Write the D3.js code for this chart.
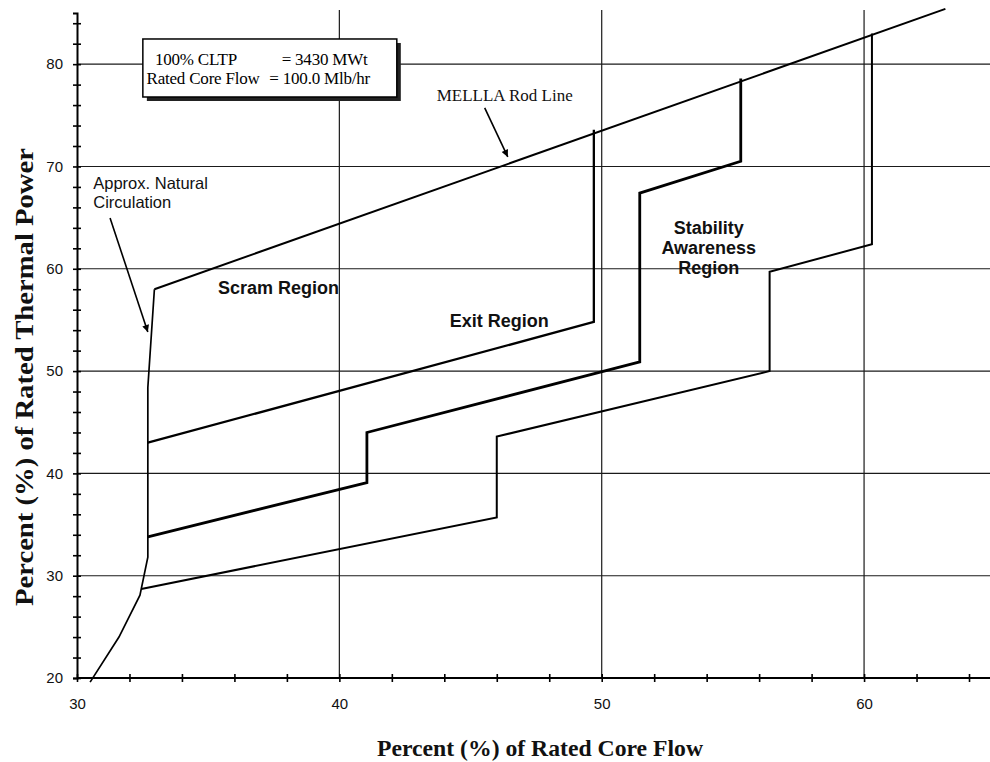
<!DOCTYPE html>
<html>
<head>
<meta charset="utf-8">
<script src="https://cdn.jsdelivr.net/npm/d3@7"></script>
<style>
body { margin: 0; background: #fff; }
</style>
</head>
<body>
<div id="chart"></div>
<script>
// axis ticks
var xTicks = [30, 40, 50, 60];
var yTicks = [20, 30, 40, 50, 60, 70, 80];
var xGrid = [40, 50, 60];
var yGrid = [30, 40, 50, 60, 70, 80];

// boundary lines (flow %, power %)
var natCircX = [30.5, 31.6, 32.4, 32.7, 32.7, 32.95];
var natCircY = [19.6, 24.0, 28.1, 31.8, 48.4, 58.0];
var rodLineX = [32.95, 63.1];
var rodLineY = [58.0, 85.4];
var exitX = [32.7, 49.7, 49.7];
var exitY = [43.0, 54.8, 73.6];
var midX = [32.7, 41.05, 41.05, 51.45, 51.45, 55.3, 55.3];
var midY = [33.8, 39.1, 44.0, 50.9, 67.4, 70.5, 78.6];
var lowX = [32.45, 46.0, 46.0, 56.4, 56.4, 60.3, 60.3];
var lowY = [28.7, 35.7, 43.6, 50.0, 59.7, 62.4, 83.0];

// region labels
var regionText = ["Scram Region", "Exit Region", "Stability", "Awareness", "Region"];
var regionX = [35.37, 44.21, 54.08, 54.08, 54.08];
var regionY = [57.54, 54.33, 63.4, 61.45, 59.5];

var w = 990, h = 762;
var x = d3.scaleLinear().domain([30, 64.8]).range([77, 990]);
var y = d3.scaleLinear().domain([20, 85]).range([678, 13]);

var svg = d3.select("#chart")
    .append("svg")
    .attr("width", w)
    .attr("height", h);

function zip(xs, ys) {
    return xs.map(function(d, i) { return [d, ys[i]]; });
}

// grid
svg.selectAll(".hgrid")
    .data(yGrid)
    .enter()
    .append("line")
    .attr("x1", x(30))
    .attr("x2", x(64.8))
    .attr("y1", function(d) { return y(d); })
    .attr("y2", function(d) { return y(d); })
    .attr("stroke", "#1a1a1a")
    .attr("stroke-width", 1.1);

svg.selectAll(".vgrid")
    .data(xGrid)
    .enter()
    .append("line")
    .attr("x1", function(d) { return x(d); })
    .attr("x2", function(d) { return x(d); })
    .attr("y1", y(20))
    .attr("y2", y(85.3))
    .attr("stroke", "#1a1a1a")
    .attr("stroke-width", 1.2);

// minor ticks, crossing the axis line
var yMinor = svg.append("g")
    .attr("transform", "translate(" + x(30) + ",0)")
    .call(d3.axisLeft(y).tickValues(d3.range(20, 85, 2)).tickSize(4).tickFormat(""));
yMinor.selectAll(".tick line").attr("x1", 4).attr("stroke-width", 1.6);
yMinor.select(".domain").attr("stroke-width", 2);

var xMinor = svg.append("g")
    .attr("transform", "translate(0," + y(20) + ")")
    .call(d3.axisBottom(x).tickValues(d3.range(30, 65, 2)).tickSize(4).tickFormat(""));
xMinor.selectAll(".tick line").attr("y1", -4).attr("stroke-width", 1.6);
xMinor.select(".domain").attr("stroke-width", 2).attr("d", "M" + x(30) + ",0H" + x(64.8));

// tick labels
var yLab = svg.append("g")
    .attr("transform", "translate(" + x(30) + ",0)")
    .call(d3.axisLeft(y).tickValues(yTicks).tickSize(0).tickPadding(14));
yLab.select(".domain").remove();
yLab.selectAll("text")
    .attr("font-family", "Liberation Sans, Arial, sans-serif")
    .attr("font-size", "15px")
    .attr("fill", "#111");

var xLab = svg.append("g")
    .attr("transform", "translate(0," + y(20) + ")")
    .call(d3.axisBottom(x).tickValues(xTicks).tickSize(0).tickPadding(20));
xLab.select(".domain").remove();
xLab.selectAll("text")
    .attr("font-family", "Liberation Sans, Arial, sans-serif")
    .attr("font-size", "15px")
    .attr("fill", "#111");

// boundary lines
var line = d3.line()
    .x(function(d) { return x(d[0]); })
    .y(function(d) { return y(d[1]); });

var series = [
    {pts: zip(natCircX, natCircY), sw: 1.7},
    {pts: zip(rodLineX, rodLineY), sw: 2},
    {pts: zip(exitX, exitY), sw: 2.3},
    {pts: zip(midX, midY), sw: 2.8},
    {pts: zip(lowX, lowY), sw: 2}
];

svg.selectAll(".bound")
    .data(series)
    .enter()
    .append("path")
    .attr("d", function(d) { return line(d.pts); })
    .attr("fill", "none")
    .attr("stroke", "#000")
    .attr("stroke-width", function(d) { return d.sw; })
    .attr("stroke-linejoin", "miter");

// info box with shadow
var boxX = [32.51, 42.19], boxY = [82.46, 76.79];
svg.append("rect")
    .attr("x", x(boxX[0]) + 4)
    .attr("y", y(boxY[0]) + 4)
    .attr("width", x(boxX[1]) - x(boxX[0]))
    .attr("height", y(boxY[1]) - y(boxY[0]))
    .attr("fill", "#222");
svg.append("rect")
    .attr("x", x(boxX[0]))
    .attr("y", y(boxY[0]))
    .attr("width", x(boxX[1]) - x(boxX[0]))
    .attr("height", y(boxY[1]) - y(boxY[0]))
    .attr("fill", "#fff")
    .attr("stroke", "#000")
    .attr("stroke-width", 1.5);

var boxText = ["100% CLTP", "= 3430 MWt", "Rated Core Flow", "= 100.0 Mlb/hr"];
var boxTextX = [32.97, 37.8, 32.65, 37.33];
var boxTextY = [79.92, 79.92, 78.06, 78.06];
svg.selectAll(".boxtext")
    .data(boxText)
    .enter()
    .append("text")
    .text(function(d) { return d; })
    .attr("x", function(d, i) { return x(boxTextX[i]); })
    .attr("y", function(d, i) { return y(boxTextY[i]); })
    .attr("font-family", "Liberation Serif, Times New Roman, serif")
    .attr("font-size", "17px")
    .attr("letter-spacing", "-0.2px")
    .attr("fill", "#000");

// region labels
svg.selectAll(".region")
    .data(regionText)
    .enter()
    .append("text")
    .text(function(d) { return d; })
    .attr("x", function(d, i) { return x(regionX[i]); })
    .attr("y", function(d, i) { return y(regionY[i]); })
    .attr("text-anchor", function(d, i) { return i < 2 ? "start" : "middle"; })
    .attr("font-family", "Liberation Sans, Arial, sans-serif")
    .attr("font-weight", "bold")
    .attr("font-size", "18px")
    .attr("fill", "#111");

// annotations with arrows
svg.append("defs").append("marker")
    .attr("id", "arrow")
    .attr("viewBox", "0 0 10 10")
    .attr("refX", 10)
    .attr("refY", 5)
    .attr("markerWidth", 10)
    .attr("markerHeight", 7)
    .attr("markerUnits", "userSpaceOnUse")
    .attr("orient", "auto")
    .append("path")
    .attr("d", "M0,0L10,5L0,10z")
    .attr("fill", "#000");

var noteText = ["MELLLA Rod Line", "Approx. Natural", "Circulation"];
var noteX = [43.71, 30.62, 30.62];
var noteY = [76.43, 67.77, 65.97];
var noteFont = ["Liberation Serif, Times New Roman, serif",
    "Liberation Sans, Arial, sans-serif",
    "Liberation Sans, Arial, sans-serif"];
svg.selectAll(".note")
    .data(noteText)
    .enter()
    .append("text")
    .text(function(d) { return d; })
    .attr("x", function(d, i) { return x(noteX[i]); })
    .attr("y", function(d, i) { return y(noteY[i]); })
    .attr("font-family", function(d, i) { return noteFont[i]; })
    .attr("font-size", function(d, i) { return i == 0 ? "17px" : "16.5px"; })
    .attr("fill", "#111");

var arrowFromX = [45.54, 31.26], arrowFromY = [75.72, 64.97];
var arrowToX = [46.42, 32.70], arrowToY = [70.93, 53.82];
svg.selectAll(".arrow")
    .data(arrowFromX)
    .enter()
    .append("line")
    .attr("x1", function(d) { return x(d); })
    .attr("y1", function(d, i) { return y(arrowFromY[i]); })
    .attr("x2", function(d, i) { return x(arrowToX[i]); })
    .attr("y2", function(d, i) { return y(arrowToY[i]); })
    .attr("stroke", "#000")
    .attr("stroke-width", 1.6)
    .attr("marker-end", "url(#arrow)");

// axis titles
svg.append("text")
    .text("Percent (%) of Rated Core Flow")
    .attr("x", 540)
    .attr("y", 756)
    .attr("text-anchor", "middle")
    .attr("textLength", 326)
    .attr("lengthAdjust", "spacingAndGlyphs")
    .attr("font-family", "Liberation Serif, Times New Roman, serif")
    .attr("font-weight", "bold")
    .attr("font-size", "24px")
    .attr("fill", "#111");

svg.append("text")
    .text("Percent (%) of Rated Thermal Power")
    .attr("transform", "translate(33,377) rotate(-90)")
    .attr("text-anchor", "middle")
    .attr("textLength", 458)
    .attr("lengthAdjust", "spacingAndGlyphs")
    .attr("font-family", "Liberation Serif, Times New Roman, serif")
    .attr("font-weight", "bold")
    .attr("font-size", "26px")
    .attr("fill", "#111");
</script>
</body>
</html>
